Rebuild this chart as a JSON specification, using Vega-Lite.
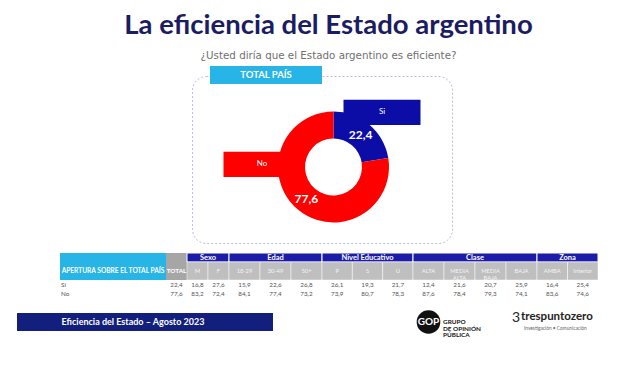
{
  "$schema": "https://vega.github.io/schema/vega-lite/v6.json",
  "background": "#ffffff",
  "padding": {"left": 17, "top": 11, "right": 5, "bottom": 5},
  "spacing": 8,
  "title": {
    "text": "La eficiencia del Estado argentino",
    "subtitle": "¿Usted diría que el Estado argentino es eficiente?",
    "anchor": "middle",
    "dx": 20,
    "font": "Lato",
    "fontSize": 27.5,
    "fontWeight": "bold",
    "color": "#1b1c62",
    "subtitleFont": "DejaVu Sans",
    "subtitleFontSize": 10.3,
    "subtitleColor": "#6f6f6f",
    "subtitlePadding": 12,
    "offset": 4
  },
  "datasets": {
    "pie": [
      {"answer": "Si", "value": 22.4},
      {"answer": "No", "value": 77.6}
    ],
    "groups": [
      {"g": "Sexo"}, {"g": "Edad"}, {"g": "Nivel Educativo"}, {"g": "Clase"}, {"g": "Zona"}
    ],
    "tbl": [
      {"g": "TOTAL", "c": "TOTAL", "a": "Si", "v": 22.4}, {"g": "TOTAL", "c": "TOTAL", "a": "No", "v": 77.6},
      {"g": "Sexo", "c": "M", "a": "Si", "v": 16.8}, {"g": "Sexo", "c": "M", "a": "No", "v": 83.2},
      {"g": "Sexo", "c": "F", "a": "Si", "v": 27.6}, {"g": "Sexo", "c": "F", "a": "No", "v": 72.4},
      {"g": "Edad", "c": "18-29", "a": "Si", "v": 15.9}, {"g": "Edad", "c": "18-29", "a": "No", "v": 84.1},
      {"g": "Edad", "c": "30-49", "a": "Si", "v": 22.6}, {"g": "Edad", "c": "30-49", "a": "No", "v": 77.4},
      {"g": "Edad", "c": "50+", "a": "Si", "v": 26.8}, {"g": "Edad", "c": "50+", "a": "No", "v": 73.2},
      {"g": "Nivel Educativo", "c": "P", "a": "Si", "v": 26.1}, {"g": "Nivel Educativo", "c": "P", "a": "No", "v": 73.9},
      {"g": "Nivel Educativo", "c": "S", "a": "Si", "v": 19.3}, {"g": "Nivel Educativo", "c": "S", "a": "No", "v": 80.7},
      {"g": "Nivel Educativo", "c": "U", "a": "Si", "v": 21.7}, {"g": "Nivel Educativo", "c": "U", "a": "No", "v": 78.3},
      {"g": "Clase", "c": "ALTA", "a": "Si", "v": 12.4}, {"g": "Clase", "c": "ALTA", "a": "No", "v": 87.6},
      {"g": "Clase", "c": "MEDIA ALTA", "a": "Si", "v": 21.6}, {"g": "Clase", "c": "MEDIA ALTA", "a": "No", "v": 78.4},
      {"g": "Clase", "c": "MEDIA BAJA", "a": "Si", "v": 20.7}, {"g": "Clase", "c": "MEDIA BAJA", "a": "No", "v": 79.3},
      {"g": "Clase", "c": "BAJA", "a": "Si", "v": 25.9}, {"g": "Clase", "c": "BAJA", "a": "No", "v": 74.1},
      {"g": "Zona", "c": "AMBA", "a": "Si", "v": 16.4}, {"g": "Zona", "c": "AMBA", "a": "No", "v": 83.6},
      {"g": "Zona", "c": "Interior", "a": "Si", "v": 25.4}, {"g": "Zona", "c": "Interior", "a": "No", "v": 74.6}
    ]
  },
  "vconcat": [
    {
      "hconcat": [
        {"width": 175, "height": 167, "data": {"values": [{}]}, "mark": {"type": "text", "text": ""}},
        {
          "width": 260,
          "height": 167,
          "view": {"stroke": "#b9bfe0", "strokeWidth": 1, "strokeDash": [2, 2], "cornerRadius": 14},
          "resolve": {"scale": {"x": "independent", "y": "independent"}},
          "layer": [
            {
              "data": {"values": [{"t": "TOTAL PAÍS"}]},
              "encoding": {
                "x": {"field": "t", "type": "nominal", "axis": null, "scale": {"type": "band", "paddingInner": 0, "paddingOuter": 0.6607, "align": 0.1216}},
                "y": {"field": "t", "type": "nominal", "axis": null, "scale": {"type": "point", "padding": 0, "align": 0}}
              },
              "layer": [
                {"mark": {"type": "rect", "fill": "#27b4e6", "height": 18, "yOffset": -1}},
                {"mark": {"type": "text", "color": "#ffffff", "font": "Lato", "fontWeight": "bold", "fontSize": 9.5, "yOffset": -1}, "encoding": {"text": {"field": "t"}}}
              ]
            },
            {
              "data": {"name": "pie"},
              "encoding": {
                "x": {"field": "answer", "type": "nominal", "axis": null, "scale": {"type": "band", "domain": ["No", "Si"], "paddingInner": 0.3583, "paddingOuter": 0.2625}},
                "y": {"field": "answer", "type": "nominal", "axis": null, "scale": {"type": "band", "domain": ["Si", "No"], "paddingInner": 0.513, "paddingOuter": 0.8625, "align": 0.264}}
              },
              "layer": [
                {"mark": {"type": "rect"}, "encoding": {"color": {"field": "answer", "type": "nominal", "scale": {"domain": ["Si", "No"], "range": ["#0c0ca6", "#ff0000"]}, "legend": null}}},
                {"mark": {"type": "text", "color": "#ffffff", "font": "Lato", "fontSize": 8}, "encoding": {"text": {"field": "answer"}}}
              ]
            },
            {
              "data": {"name": "pie"},
              "encoding": {
                "theta": {"field": "value", "type": "quantitative", "stack": true},
                "order": {"field": "answer", "sort": "descending"}
              },
              "layer": [
                {"mark": {"type": "arc", "innerRadius": 28.5, "outerRadius": 55.5, "xOffset": 11.5, "yOffset": 7.5}, "encoding": {"color": {"field": "answer", "type": "nominal", "scale": {"domain": ["Si", "No"], "range": ["#0c0ca6", "#ff0000"]}, "legend": null}}},
                {"mark": {"type": "text", "radius": 42, "color": "#ffffff", "font": "Lato", "fontWeight": "bold", "fontSize": 12, "dx": 11.5, "dy": 7.5}, "encoding": {"text": {"field": "value", "type": "quantitative", "format": ".1f"}}}
              ]
            }
          ]
        }
      ],
      "spacing": 0,
      "bounds": "flush"
    },
    {
      "hconcat": [
        {"width": 43, "height": 49, "data": {"values": [{}]}, "mark": {"type": "text", "text": ""}},
        {
          "width": 106, "height": 49,
          "layer": [
            {
              "data": {"values": [{"t": "APERTURA SOBRE EL TOTAL PAÍS"}]},
              "layer": [
                {"mark": {"type": "rect", "fill": "#27b4e6"}, "encoding": {"y": {"datum": "g", "type": "nominal", "bandPosition": 0, "axis": null, "scale": {"type": "band", "domain": ["g", "s1", "s2", "Si", "No"], "paddingInner": 0, "paddingOuter": 0.2222, "align": 0}}, "y2": {"datum": "s2", "bandPosition": 1}}},
                {"mark": {"type": "text", "color": "#ffffff", "font": "Lato", "fontWeight": "bold", "fontSize": 6.6}, "encoding": {"y": {"datum": "s1", "type": "nominal", "bandPosition": 1, "axis": null, "scale": {"type": "band", "domain": ["g", "s1", "s2", "Si", "No"], "paddingInner": 0, "paddingOuter": 0.2222, "align": 0}}, "text": {"field": "t"}}}
              ]
            },
            {
              "data": {"name": "pie"},
              "mark": {"type": "text", "align": "left", "color": "#555555", "font": "Lato", "fontSize": 6.3, "dx": 1},
              "encoding": {
                "x": {"datum": 0, "type": "quantitative", "axis": null, "scale": {"domain": [0, 1]}},
                "y": {"field": "answer", "type": "nominal", "axis": null, "scale": {"type": "band", "domain": ["g", "s1", "s2", "Si", "No"], "paddingInner": 0, "paddingOuter": 0.2222, "align": 0}},
                "text": {"field": "answer"}
              }
            }
          ]
        },
        {
          "width": 21, "height": 49,
          "layer": [
            {
              "data": {"name": "tbl"},
              "transform": [{"filter": {"field": "g", "equal": "TOTAL"}}, {"filter": {"field": "a", "equal": "Si"}}],
              "layer": [
                {"mark": {"type": "rect", "fill": "#a6a6a6"}, "encoding": {"y": {"datum": "g", "type": "nominal", "bandPosition": 0, "axis": null, "scale": {"type": "band", "domain": ["g", "s1", "s2", "Si", "No"], "paddingInner": 0, "paddingOuter": 0.2222, "align": 0}}, "y2": {"datum": "s2", "bandPosition": 1}}},
                {"mark": {"type": "text", "color": "#ffffff", "font": "Lato", "fontWeight": "bold", "fontSize": 6.3}, "encoding": {"y": {"datum": "s1", "type": "nominal", "bandPosition": 1, "axis": null, "scale": {"type": "band", "domain": ["g", "s1", "s2", "Si", "No"], "paddingInner": 0, "paddingOuter": 0.2222, "align": 0}}, "text": {"field": "c"}}}
              ]
            },
            {
              "data": {"name": "tbl"},
              "transform": [{"filter": {"field": "g", "equal": "TOTAL"}}],
              "mark": {"type": "text", "color": "#555555", "font": "Lato", "fontSize": 6.3},
              "encoding": {
                "y": {"field": "a", "type": "nominal", "axis": null, "scale": {"type": "band", "domain": ["g", "s1", "s2", "Si", "No"], "paddingInner": 0, "paddingOuter": 0.2222, "align": 0}},
                "text": {"field": "v", "type": "quantitative", "format": ".1f"}
              }
            }
          ]
        },
        {
          "width": 42, "height": 49,
          "layer": [
            {"data": {"name": "groups"}, "transform": [{"filter": {"field": "g", "equal": "Sexo"}}],
             "encoding": {"y": {"datum": "g", "type": "nominal", "axis": null, "scale": {"type": "band", "domain": ["g", "s1", "s2", "Si", "No"], "paddingInner": 0, "paddingOuter": 0.2222, "align": 0}}},
             "layer": [
               {"mark": {"type": "rect", "fill": "#1c1ca8", "stroke": "#ffffff", "strokeWidth": 1}},
               {"mark": {"type": "text", "color": "#ffffff", "font": "Lato", "fontWeight": "bold", "fontSize": 7.5}, "encoding": {"text": {"field": "g"}}}
             ]},
            {"data": {"name": "tbl"}, "transform": [{"filter": {"field": "g", "equal": "Sexo"}}, {"filter": {"field": "a", "equal": "Si"}}],
             "encoding": {"x": {"field": "c", "type": "nominal", "axis": null, "scale": {"type": "band", "domain": ["M", "F"], "paddingInner": 0, "paddingOuter": 0}}},
             "layer": [
               {"mark": {"type": "rect", "fill": "#bfbfbf", "stroke": "#ffffff", "strokeWidth": 0.5}, "encoding": {"y": {"datum": "s1", "type": "nominal", "bandPosition": 0, "axis": null, "scale": {"type": "band", "domain": ["g", "s1", "s2", "Si", "No"], "paddingInner": 0, "paddingOuter": 0.2222, "align": 0}}, "y2": {"datum": "s2", "bandPosition": 1}}},
               {"mark": {"type": "text", "color": "#f3f3f3", "font": "Lato", "fontSize": 5.8, "lineBreak": " ", "lineHeight": 6.5}, "encoding": {"y": {"datum": "s1", "type": "nominal", "bandPosition": 1, "axis": null, "scale": {"type": "band", "domain": ["g", "s1", "s2", "Si", "No"], "paddingInner": 0, "paddingOuter": 0.2222, "align": 0}}, "text": {"field": "c"}}}
             ]},
            {"data": {"name": "tbl"}, "transform": [{"filter": {"field": "g", "equal": "Sexo"}}],
             "mark": {"type": "text", "color": "#555555", "font": "Lato", "fontSize": 6.3},
             "encoding": {
               "x": {"field": "c", "type": "nominal", "axis": null, "scale": {"type": "band", "domain": ["M", "F"], "paddingInner": 0, "paddingOuter": 0}},
               "y": {"field": "a", "type": "nominal", "axis": null, "scale": {"type": "band", "domain": ["g", "s1", "s2", "Si", "No"], "paddingInner": 0, "paddingOuter": 0.2222, "align": 0}},
               "text": {"field": "v", "type": "quantitative", "format": ".1f"}
             }}
          ]
        },
        {
          "width": 93, "height": 49,
          "layer": [
            {"data": {"name": "groups"}, "transform": [{"filter": {"field": "g", "equal": "Edad"}}],
             "encoding": {"y": {"datum": "g", "type": "nominal", "axis": null, "scale": {"type": "band", "domain": ["g", "s1", "s2", "Si", "No"], "paddingInner": 0, "paddingOuter": 0.2222, "align": 0}}},
             "layer": [
               {"mark": {"type": "rect", "fill": "#1c1ca8", "stroke": "#ffffff", "strokeWidth": 1}},
               {"mark": {"type": "text", "color": "#ffffff", "font": "Lato", "fontWeight": "bold", "fontSize": 7.5}, "encoding": {"text": {"field": "g"}}}
             ]},
            {"data": {"name": "tbl"}, "transform": [{"filter": {"field": "g", "equal": "Edad"}}, {"filter": {"field": "a", "equal": "Si"}}],
             "encoding": {"x": {"field": "c", "type": "nominal", "axis": null, "scale": {"type": "band", "domain": ["18-29", "30-49", "50+"], "paddingInner": 0, "paddingOuter": 0}}},
             "layer": [
               {"mark": {"type": "rect", "fill": "#bfbfbf", "stroke": "#ffffff", "strokeWidth": 0.5}, "encoding": {"y": {"datum": "s1", "type": "nominal", "bandPosition": 0, "axis": null, "scale": {"type": "band", "domain": ["g", "s1", "s2", "Si", "No"], "paddingInner": 0, "paddingOuter": 0.2222, "align": 0}}, "y2": {"datum": "s2", "bandPosition": 1}}},
               {"mark": {"type": "text", "color": "#f3f3f3", "font": "Lato", "fontSize": 5.8, "lineBreak": " ", "lineHeight": 6.5}, "encoding": {"y": {"datum": "s1", "type": "nominal", "bandPosition": 1, "axis": null, "scale": {"type": "band", "domain": ["g", "s1", "s2", "Si", "No"], "paddingInner": 0, "paddingOuter": 0.2222, "align": 0}}, "text": {"field": "c"}}}
             ]},
            {"data": {"name": "tbl"}, "transform": [{"filter": {"field": "g", "equal": "Edad"}}],
             "mark": {"type": "text", "color": "#555555", "font": "Lato", "fontSize": 6.3},
             "encoding": {
               "x": {"field": "c", "type": "nominal", "axis": null, "scale": {"type": "band", "domain": ["18-29", "30-49", "50+"], "paddingInner": 0, "paddingOuter": 0}},
               "y": {"field": "a", "type": "nominal", "axis": null, "scale": {"type": "band", "domain": ["g", "s1", "s2", "Si", "No"], "paddingInner": 0, "paddingOuter": 0.2222, "align": 0}},
               "text": {"field": "v", "type": "quantitative", "format": ".1f"}
             }}
          ]
        },
        {
          "width": 91, "height": 49,
          "layer": [
            {"data": {"name": "groups"}, "transform": [{"filter": {"field": "g", "equal": "Nivel Educativo"}}],
             "encoding": {"y": {"datum": "g", "type": "nominal", "axis": null, "scale": {"type": "band", "domain": ["g", "s1", "s2", "Si", "No"], "paddingInner": 0, "paddingOuter": 0.2222, "align": 0}}},
             "layer": [
               {"mark": {"type": "rect", "fill": "#1c1ca8", "stroke": "#ffffff", "strokeWidth": 1}},
               {"mark": {"type": "text", "color": "#ffffff", "font": "Lato", "fontWeight": "bold", "fontSize": 7.5}, "encoding": {"text": {"field": "g"}}}
             ]},
            {"data": {"name": "tbl"}, "transform": [{"filter": {"field": "g", "equal": "Nivel Educativo"}}, {"filter": {"field": "a", "equal": "Si"}}],
             "encoding": {"x": {"field": "c", "type": "nominal", "axis": null, "scale": {"type": "band", "domain": ["P", "S", "U"], "paddingInner": 0, "paddingOuter": 0}}},
             "layer": [
               {"mark": {"type": "rect", "fill": "#bfbfbf", "stroke": "#ffffff", "strokeWidth": 0.5}, "encoding": {"y": {"datum": "s1", "type": "nominal", "bandPosition": 0, "axis": null, "scale": {"type": "band", "domain": ["g", "s1", "s2", "Si", "No"], "paddingInner": 0, "paddingOuter": 0.2222, "align": 0}}, "y2": {"datum": "s2", "bandPosition": 1}}},
               {"mark": {"type": "text", "color": "#f3f3f3", "font": "Lato", "fontSize": 5.8, "lineBreak": " ", "lineHeight": 6.5}, "encoding": {"y": {"datum": "s1", "type": "nominal", "bandPosition": 1, "axis": null, "scale": {"type": "band", "domain": ["g", "s1", "s2", "Si", "No"], "paddingInner": 0, "paddingOuter": 0.2222, "align": 0}}, "text": {"field": "c"}}}
             ]},
            {"data": {"name": "tbl"}, "transform": [{"filter": {"field": "g", "equal": "Nivel Educativo"}}],
             "mark": {"type": "text", "color": "#555555", "font": "Lato", "fontSize": 6.3},
             "encoding": {
               "x": {"field": "c", "type": "nominal", "axis": null, "scale": {"type": "band", "domain": ["P", "S", "U"], "paddingInner": 0, "paddingOuter": 0}},
               "y": {"field": "a", "type": "nominal", "axis": null, "scale": {"type": "band", "domain": ["g", "s1", "s2", "Si", "No"], "paddingInner": 0, "paddingOuter": 0.2222, "align": 0}},
               "text": {"field": "v", "type": "quantitative", "format": ".1f"}
             }}
          ]
        },
        {
          "width": 124, "height": 49,
          "layer": [
            {"data": {"name": "groups"}, "transform": [{"filter": {"field": "g", "equal": "Clase"}}],
             "encoding": {"y": {"datum": "g", "type": "nominal", "axis": null, "scale": {"type": "band", "domain": ["g", "s1", "s2", "Si", "No"], "paddingInner": 0, "paddingOuter": 0.2222, "align": 0}}},
             "layer": [
               {"mark": {"type": "rect", "fill": "#1c1ca8", "stroke": "#ffffff", "strokeWidth": 1}},
               {"mark": {"type": "text", "color": "#ffffff", "font": "Lato", "fontWeight": "bold", "fontSize": 7.5}, "encoding": {"text": {"field": "g"}}}
             ]},
            {"data": {"name": "tbl"}, "transform": [{"filter": {"field": "g", "equal": "Clase"}}, {"filter": {"field": "a", "equal": "Si"}}],
             "encoding": {"x": {"field": "c", "type": "nominal", "axis": null, "scale": {"type": "band", "domain": ["ALTA", "MEDIA ALTA", "MEDIA BAJA", "BAJA"], "paddingInner": 0, "paddingOuter": 0}}},
             "layer": [
               {"mark": {"type": "rect", "fill": "#bfbfbf", "stroke": "#ffffff", "strokeWidth": 0.5}, "encoding": {"y": {"datum": "s1", "type": "nominal", "bandPosition": 0, "axis": null, "scale": {"type": "band", "domain": ["g", "s1", "s2", "Si", "No"], "paddingInner": 0, "paddingOuter": 0.2222, "align": 0}}, "y2": {"datum": "s2", "bandPosition": 1}}},
               {"mark": {"type": "text", "color": "#f3f3f3", "font": "Lato", "fontSize": 5.8, "lineBreak": " ", "lineHeight": 6.5}, "encoding": {"y": {"datum": "s1", "type": "nominal", "bandPosition": 1, "axis": null, "scale": {"type": "band", "domain": ["g", "s1", "s2", "Si", "No"], "paddingInner": 0, "paddingOuter": 0.2222, "align": 0}}, "text": {"field": "c"}}}
             ]},
            {"data": {"name": "tbl"}, "transform": [{"filter": {"field": "g", "equal": "Clase"}}],
             "mark": {"type": "text", "color": "#555555", "font": "Lato", "fontSize": 6.3},
             "encoding": {
               "x": {"field": "c", "type": "nominal", "axis": null, "scale": {"type": "band", "domain": ["ALTA", "MEDIA ALTA", "MEDIA BAJA", "BAJA"], "paddingInner": 0, "paddingOuter": 0}},
               "y": {"field": "a", "type": "nominal", "axis": null, "scale": {"type": "band", "domain": ["g", "s1", "s2", "Si", "No"], "paddingInner": 0, "paddingOuter": 0.2222, "align": 0}},
               "text": {"field": "v", "type": "quantitative", "format": ".1f"}
             }}
          ]
        },
        {
          "width": 61, "height": 49,
          "layer": [
            {"data": {"name": "groups"}, "transform": [{"filter": {"field": "g", "equal": "Zona"}}],
             "encoding": {"y": {"datum": "g", "type": "nominal", "axis": null, "scale": {"type": "band", "domain": ["g", "s1", "s2", "Si", "No"], "paddingInner": 0, "paddingOuter": 0.2222, "align": 0}}},
             "layer": [
               {"mark": {"type": "rect", "fill": "#1c1ca8", "stroke": "#ffffff", "strokeWidth": 1}},
               {"mark": {"type": "text", "color": "#ffffff", "font": "Lato", "fontWeight": "bold", "fontSize": 7.5}, "encoding": {"text": {"field": "g"}}}
             ]},
            {"data": {"name": "tbl"}, "transform": [{"filter": {"field": "g", "equal": "Zona"}}, {"filter": {"field": "a", "equal": "Si"}}],
             "encoding": {"x": {"field": "c", "type": "nominal", "axis": null, "scale": {"type": "band", "domain": ["AMBA", "Interior"], "paddingInner": 0, "paddingOuter": 0}}},
             "layer": [
               {"mark": {"type": "rect", "fill": "#bfbfbf", "stroke": "#ffffff", "strokeWidth": 0.5}, "encoding": {"y": {"datum": "s1", "type": "nominal", "bandPosition": 0, "axis": null, "scale": {"type": "band", "domain": ["g", "s1", "s2", "Si", "No"], "paddingInner": 0, "paddingOuter": 0.2222, "align": 0}}, "y2": {"datum": "s2", "bandPosition": 1}}},
               {"mark": {"type": "text", "color": "#f3f3f3", "font": "Lato", "fontSize": 5.8, "lineBreak": " ", "lineHeight": 6.5}, "encoding": {"y": {"datum": "s1", "type": "nominal", "bandPosition": 1, "axis": null, "scale": {"type": "band", "domain": ["g", "s1", "s2", "Si", "No"], "paddingInner": 0, "paddingOuter": 0.2222, "align": 0}}, "text": {"field": "c"}}}
             ]},
            {"data": {"name": "tbl"}, "transform": [{"filter": {"field": "g", "equal": "Zona"}}],
             "mark": {"type": "text", "color": "#555555", "font": "Lato", "fontSize": 6.3},
             "encoding": {
               "x": {"field": "c", "type": "nominal", "axis": null, "scale": {"type": "band", "domain": ["AMBA", "Interior"], "paddingInner": 0, "paddingOuter": 0}},
               "y": {"field": "a", "type": "nominal", "axis": null, "scale": {"type": "band", "domain": ["g", "s1", "s2", "Si", "No"], "paddingInner": 0, "paddingOuter": 0.2222, "align": 0}},
               "text": {"field": "v", "type": "quantitative", "format": ".1f"}
             }}
          ]
        }
      ],
      "spacing": 0,
      "bounds": "flush"
    },
    {
      "hconcat": [
        {
          "width": 256, "height": 18,
          "view": {"fill": "#131f7c", "stroke": null},
          "data": {"values": [{"t": "Eficiencia del Estado – Agosto 2023"}]},
          "mark": {"type": "text", "color": "#ffffff", "font": "Lato", "fontWeight": "bold", "fontSize": 9, "dx": -12},
          "encoding": {"text": {"field": "t"}}
        },
        {"width": 142, "height": 18, "data": {"values": [{}]}, "mark": {"type": "text", "text": ""}},
        {
          "width": 27, "height": 18,
          "data": {"values": [{"t": "GOP"}]},
          "layer": [
            {"mark": {"type": "point", "shape": "circle", "filled": true, "color": "#111111", "opacity": 1, "size": 560}, "encoding": {}},
            {"mark": {"type": "text", "color": "#ffffff", "font": "Lato", "fontWeight": "bold", "fontSize": 10}, "encoding": {"text": {"field": "t"}}}
          ]
        },
        {
          "width": 48, "height": 18,
          "data": {"values": [{"t": "GRUPO|DE OPINIÓN|PÚBLICA"}]},
          "mark": {"type": "text", "align": "left", "baseline": "middle", "lineBreak": "|", "lineHeight": 6.6, "color": "#111111", "font": "Lato", "fontWeight": "bold", "fontSize": 6.4, "dx": 1},
          "encoding": {"x": {"datum": 0, "type": "quantitative", "axis": null, "scale": {"domain": [0, 1]}}, "text": {"field": "t"}}
        },
        {"width": 20, "height": 18, "data": {"values": [{}]}, "mark": {"type": "text", "text": ""}},
        {
          "width": 90, "height": 18,
          "layer": [
            {"data": {"values": [{"t": "3"}]}, "mark": {"type": "text", "align": "left", "color": "#222222", "font": "Lato", "fontSize": 14, "dx": 2, "dy": -4}, "encoding": {"x": {"datum": 0, "type": "quantitative", "axis": null, "scale": {"domain": [0, 1]}}, "text": {"field": "t"}}},
            {"data": {"values": [{"t": "trespuntozero"}]}, "mark": {"type": "text", "align": "left", "color": "#222222", "font": "Lato", "fontWeight": "bold", "fontSize": 11.5, "dx": 11, "dy": -5}, "encoding": {"x": {"datum": 0, "type": "quantitative", "axis": null, "scale": {"domain": [0, 1]}}, "text": {"field": "t"}}},
            {"data": {"values": [{"t": "Investigación • Comunicación"}]}, "mark": {"type": "text", "align": "left", "color": "#666666", "font": "Lato", "fontSize": 4.8, "dx": 14, "dy": 7}, "encoding": {"x": {"datum": 0, "type": "quantitative", "axis": null, "scale": {"domain": [0, 1]}}, "text": {"field": "t"}}}
          ]
        }
      ],
      "spacing": 0,
      "bounds": "flush"
    }
  ],
  "config": {
    "view": {"stroke": null},
    "font": "Lato",
    "locale": {"number": {"decimal": ",", "thousands": ".", "grouping": [3], "currency": ["$", ""]}}
  }
}
